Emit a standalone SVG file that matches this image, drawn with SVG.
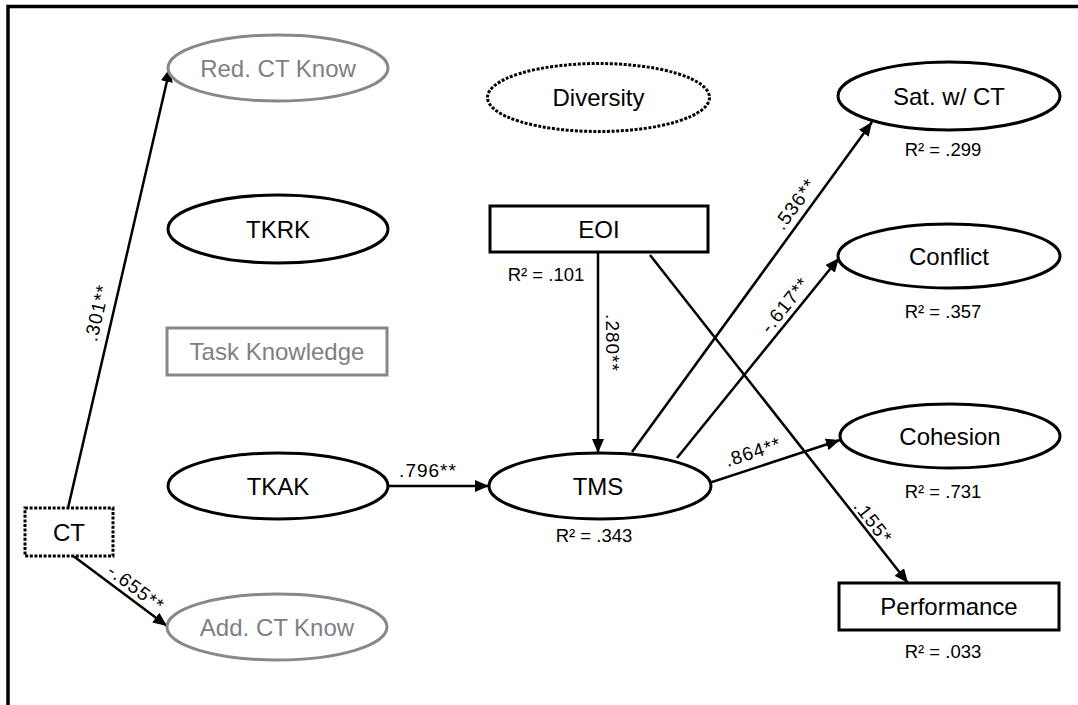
<svg xmlns="http://www.w3.org/2000/svg" width="1078" height="705" viewBox="0 0 1078 705">
  <style>
    text { font-family: "Liberation Sans", Arial, sans-serif; }
    .lbl { font-size: 24px; fill: #000; text-anchor: middle; }
    .gl { fill: #808080; }
    .r2 { font-size: 18.5px; fill: #000; text-anchor: middle; }
    .cf { font-size: 19px; fill: #000; text-anchor: middle; dominant-baseline: central; letter-spacing: 1px; }
    .node { fill: #fff; stroke: #000; stroke-width: 3; }
    .gray { stroke: #888; }
    .dot { stroke-dasharray: 3 1.6; }
    .edge { stroke: #000; stroke-width: 2.5; fill: none; marker-end: url(#arr); }
  </style>
  <defs>
    <marker id="arr" markerUnits="userSpaceOnUse" markerWidth="15" markerHeight="12" refX="14" refY="6" orient="auto">
      <path d="M0,0 L14,6 L0,12 z" fill="#000"/>
    </marker>
  </defs>
  <rect width="1078" height="705" fill="#fff"/>
  <path d="M8,705 V6.5 H1078" fill="none" stroke="#000" stroke-width="3.5"/>

  <g id="connectors">
    <line class="edge" x1="68" y1="508" x2="170" y2="68"/>
    <line class="edge" x1="72" y1="555" x2="167" y2="626"/>
    <line class="edge" x1="388" y1="486" x2="489" y2="486"/>
    <line class="edge" x1="598" y1="252" x2="598" y2="453"/>
    <line class="edge" x1="632" y1="452" x2="872" y2="122"/>
    <line class="edge" x1="677" y1="458" x2="839" y2="258"/>
    <line class="edge" x1="709" y1="483" x2="840" y2="440"/>
    <line class="edge" x1="650" y1="255" x2="908" y2="583"/>
    <text class="cf" transform="translate(97,313) rotate(-77)">.301**</text>
    <text class="cf" transform="translate(136,588) rotate(37)">-.655**</text>
    <text class="cf" x="428" y="470">.796**</text>
    <text class="cf" transform="translate(612,343) rotate(90)">.280**</text>
    <text class="cf" transform="translate(795,204) rotate(-54)">.536**</text>
    <text class="cf" transform="translate(785,305) rotate(-51)">-.617**</text>
    <text class="cf" transform="translate(753,452) rotate(-18)">.864**</text>
    <text class="cf" transform="translate(873,522) rotate(52)">.155*</text>
  </g>

  <g id="red-ct-know">
    <ellipse class="node gray" cx="278" cy="68" rx="110" ry="33"/>
    <text class="lbl gl" x="278" y="77">Red. CT Know</text>
  </g>
  <g id="diversity">
    <ellipse class="node dot" cx="598.5" cy="97.5" rx="111" ry="34"/>
    <text class="lbl" x="598.5" y="106">Diversity</text>
  </g>
  <g id="sat-ct">
    <ellipse class="node" cx="949" cy="96" rx="111" ry="34"/>
    <text class="lbl" x="949" y="105">Sat. w/ CT</text>
    <text class="r2" x="943" y="156">R² = .299</text>
  </g>
  <g id="tkrk">
    <ellipse class="node" cx="278" cy="229" rx="110" ry="34"/>
    <text class="lbl" x="278" y="238">TKRK</text>
  </g>
  <g id="eoi">
    <rect class="node" x="490" y="206" width="218" height="46"/>
    <text class="lbl" x="599" y="238">EOI</text>
    <text class="r2" x="546" y="281">R² = .101</text>
  </g>
  <g id="conflict">
    <ellipse class="node" cx="949" cy="256" rx="111" ry="32"/>
    <text class="lbl" x="949" y="265">Conflict</text>
    <text class="r2" x="943" y="318">R² = .357</text>
  </g>
  <g id="task-knowledge">
    <rect class="node gray" x="167" y="328" width="220" height="47"/>
    <text class="lbl gl" x="277" y="360">Task Knowledge</text>
  </g>
  <g id="tkak">
    <ellipse class="node" cx="278" cy="486" rx="110" ry="33"/>
    <text class="lbl" x="278" y="495">TKAK</text>
  </g>
  <g id="tms">
    <ellipse class="node" cx="600" cy="486" rx="111" ry="33"/>
    <text class="lbl" x="598" y="495">TMS</text>
    <text class="r2" x="594" y="542">R² = .343</text>
  </g>
  <g id="cohesion">
    <ellipse class="node" cx="950" cy="436" rx="110" ry="32"/>
    <text class="lbl" x="950" y="445">Cohesion</text>
    <text class="r2" x="943" y="498">R² = .731</text>
  </g>
  <g id="ct">
    <rect class="node dot" x="25" y="508" width="88" height="48"/>
    <text class="lbl" x="69" y="541">CT</text>
  </g>
  <g id="add-ct-know">
    <ellipse class="node gray" cx="277" cy="627" rx="110" ry="33"/>
    <text class="lbl gl" x="277" y="636">Add. CT Know</text>
  </g>
  <g id="performance">
    <rect class="node" x="839" y="583" width="220" height="47"/>
    <text class="lbl" x="949" y="615">Performance</text>
    <text class="r2" x="943" y="658">R² = .033</text>
  </g>
</svg>
